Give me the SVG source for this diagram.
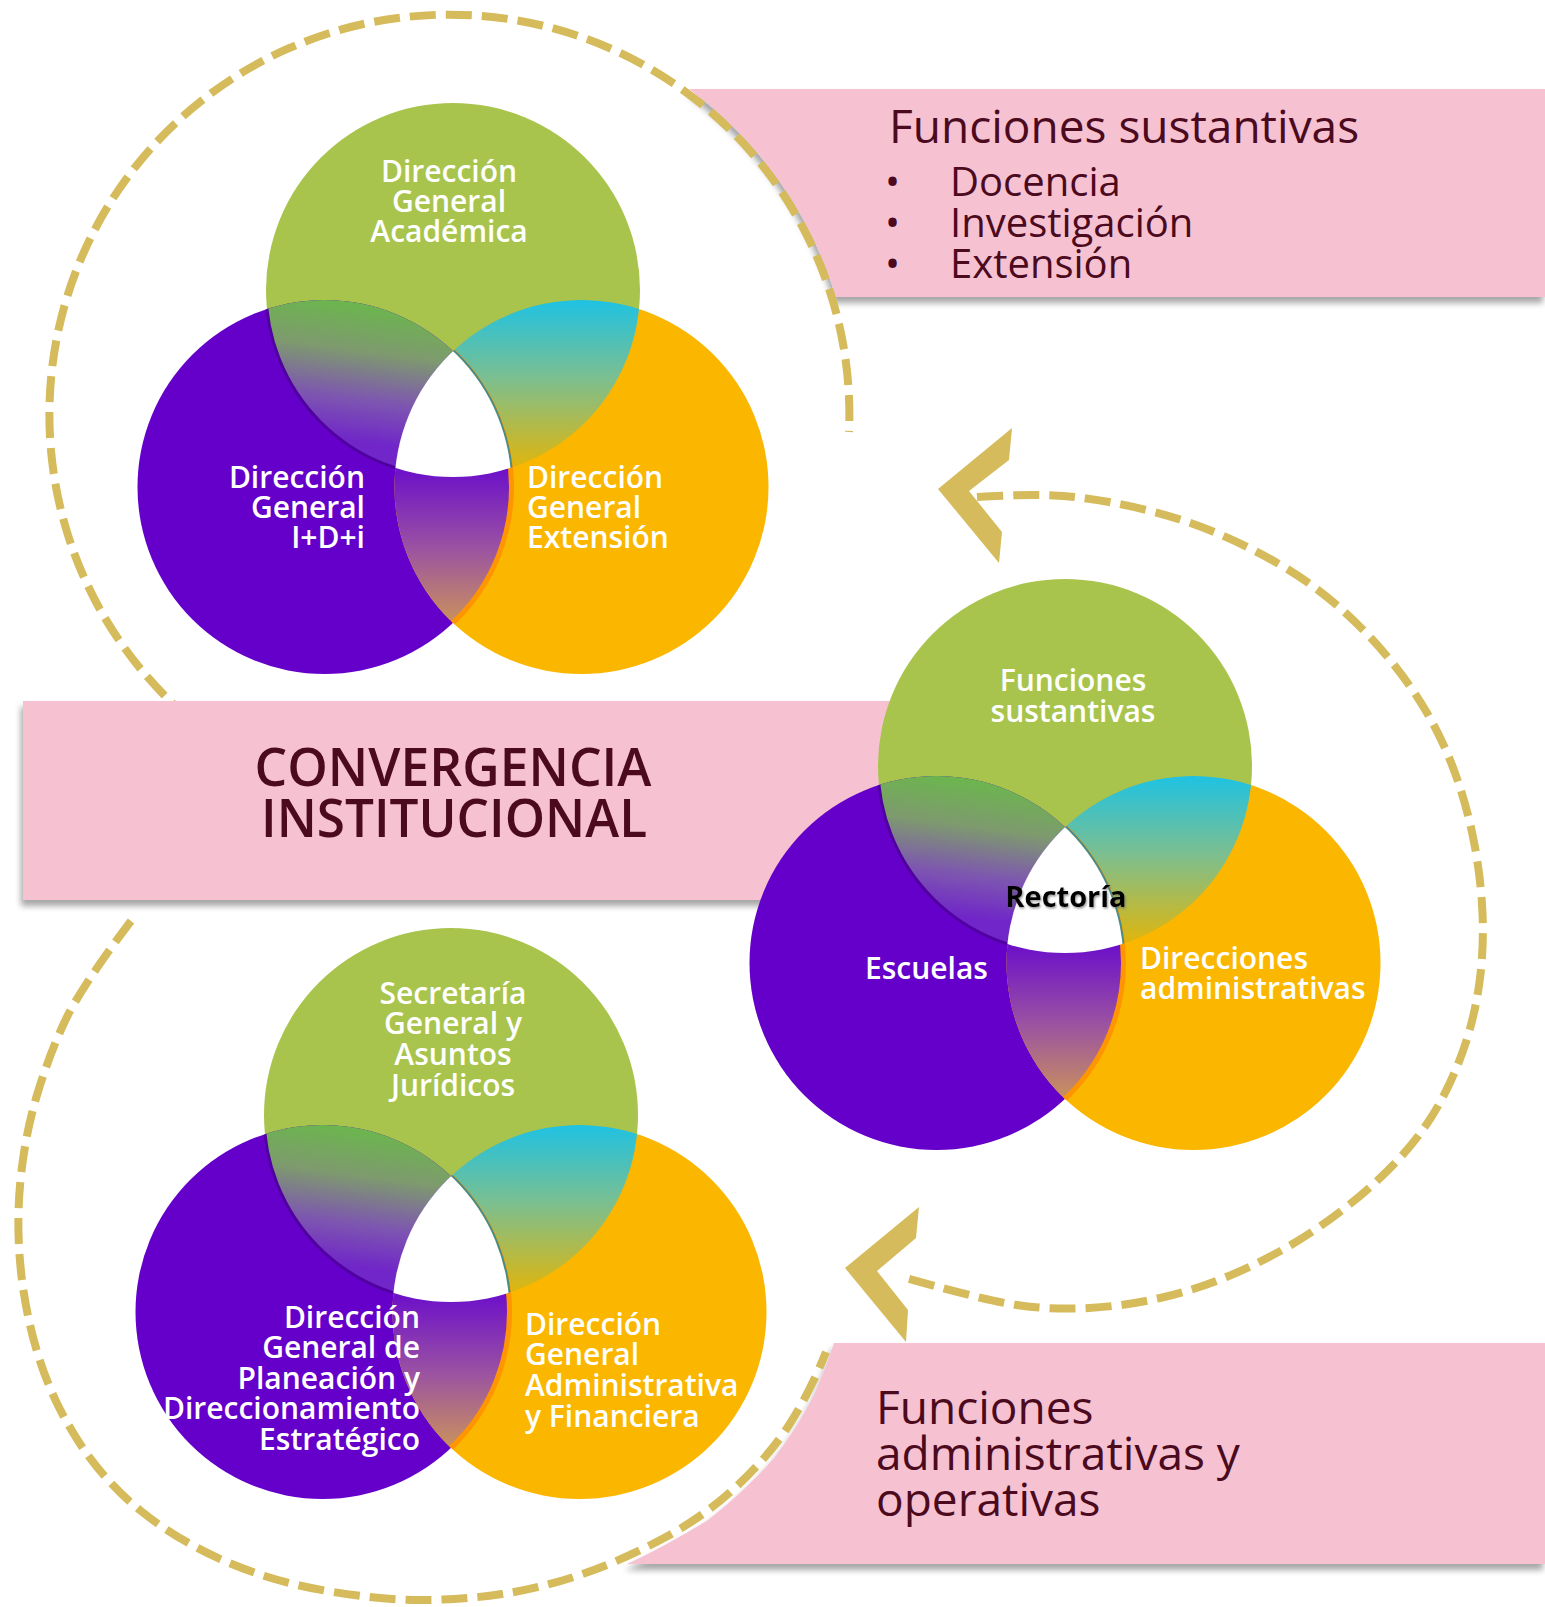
<svg xmlns="http://www.w3.org/2000/svg" width="1545" height="1607" viewBox="0 0 1545 1607">
<defs>
<style>
.lbl{font-family:"Open Sans","Noto Sans","DejaVu Sans",sans-serif;font-size:30px;font-weight:600;fill:#ffffff}
.c{text-anchor:middle}
.r{text-anchor:end}
.ban{font-family:"Open Sans","Noto Sans","DejaVu Sans",sans-serif;fill:#4C0A1E}
.dash{fill:none;stroke:#D5BB5B;stroke-width:8;stroke-dasharray:26 10}
.chev{fill:#D5BB5B}
.pink{fill:#F6C2D2}
</style>
<filter id="sh" x="-5%" y="-10%" width="110%" height="130%">
<feDropShadow dx="-2" dy="6" stdDeviation="3" flood-color="#000" flood-opacity="0.35"/>
</filter>
<filter id="tsh" x="-10%" y="-20%" width="120%" height="150%">
<feDropShadow dx="1" dy="1.5" stdDeviation="1.2" flood-color="#666" flood-opacity="0.7"/>
</filter>
<clipPath id="cpP"><circle cx="-128.5" cy="0" r="187"/></clipPath>
<clipPath id="cpO"><circle cx="128.5" cy="0" r="187"/></clipPath>
<clipPath id="cpG"><circle cx="0" cy="-197" r="187"/></clipPath>
<mask id="mPO" maskUnits="userSpaceOnUse" x="-400" y="-450" width="800" height="700">
<circle cx="-128.5" cy="0" r="187" fill="#fff"/>
<circle cx="128.5" cy="0" r="187" fill="#000"/>
</mask>
<linearGradient id="gGP" gradientUnits="userSpaceOnUse" x1="0" y1="-185" x2="-20" y2="-35">
<stop offset="0" stop-color="#66BE44"/>
<stop offset="0.4" stop-color="#7E9A6E"/>
<stop offset="0.72" stop-color="#7D56B0"/>
<stop offset="1" stop-color="#7026C8"/>
</linearGradient>
<linearGradient id="gGO" gradientUnits="userSpaceOnUse" x1="0" y1="-190" x2="0" y2="-25">
<stop offset="0" stop-color="#1BC2E6"/>
<stop offset="0.5" stop-color="#7DBF8E"/>
<stop offset="1" stop-color="#DAB614"/>
</linearGradient>
<linearGradient id="gPO" gradientUnits="userSpaceOnUse" x1="0" y1="-15" x2="0" y2="136">
<stop offset="0" stop-color="#6E12C8"/>
<stop offset="0.5" stop-color="#9A52A2"/>
<stop offset="1" stop-color="#CA925C"/>
</linearGradient>
<g id="vennShape">
<circle cx="0" cy="-197" r="187" fill="#A9C44C"/>
<circle cx="-128.5" cy="0" r="187" fill="#6500CA"/>
<circle cx="128.5" cy="0" r="187" fill="#FBB600"/>
<g clip-path="url(#cpP)"><circle cx="0" cy="-197" r="187" fill="url(#gGP)"/></g>
<g clip-path="url(#cpO)"><circle cx="0" cy="-197" r="187" fill="url(#gGO)"/></g>
<g clip-path="url(#cpO)"><circle cx="-128.5" cy="0" r="187" fill="url(#gPO)"/></g>
<g clip-path="url(#cpO)"><circle cx="-128.5" cy="0" r="187" fill="none" stroke="#FF9500" stroke-width="5"/></g>
<g clip-path="url(#cpO)"><g clip-path="url(#cpG)"><circle cx="-128.5" cy="0" r="187" fill="none" stroke="#4A8C84" stroke-width="4"/></g></g>
<circle cx="0" cy="-197" r="187" fill="none" stroke="#5000A0" stroke-width="3" mask="url(#mPO)"/>
<g clip-path="url(#cpO)"><g clip-path="url(#cpG)"><circle cx="-128.5" cy="0" r="187" fill="#ffffff"/></g></g>
</g>
</defs>

<rect x="0" y="0" width="1545" height="1607" fill="#ffffff"/>

<g id="banner-sustantivas">
<path class="pink" filter="url(#sh)" d="M689 89 L1545 89 L1545 297 L836 297 A404 404 0 0 0 689 89 Z"/>
<text class="ban" x="889" y="143" font-size="46">Funciones sustantivas</text>
<text class="ban" font-size="40"><tspan x="885" y="196">•</tspan><tspan x="885" y="237">•</tspan><tspan x="885" y="278">•</tspan></text>
<text class="ban" font-size="40"><tspan x="950" y="196">Docencia</tspan><tspan x="950" y="237">Investigación</tspan><tspan x="950" y="278">Extensión</tspan></text>
</g>

<g id="banner-administrativas">
<path class="pink" filter="url(#sh)" d="M834 1343 L1545 1343 L1545 1564 L627 1564 Q664 1547 708 1520 Q744 1492 774 1458 Q797 1428 814 1395 Q825 1370 834 1343 Z"/>
<text class="ban" font-size="46"><tspan x="876" y="1424">Funciones</tspan><tspan x="876" y="1470">administrativas y</tspan><tspan x="876" y="1516">operativas</tspan></text>
</g>

<g id="connectors">
<path class="dash" d="M191 720 A400 400 0 1 1 849 432"/>
<path class="dash" d="M131 921 Q81 987 65 1021 Q49 1055 37 1095 Q25 1135 20.5 1180 Q16 1225 21 1271.5 Q26 1318 40 1361 Q54 1404 79.5 1443 Q105 1482 141 1511 Q177 1540 223.5 1560.5 Q270 1581 324.5 1590.5 Q379 1600 420.5 1600 Q462 1600 502 1594 Q542 1588 582.5 1574 Q623 1560 664 1538 Q705 1516 737.5 1485.5 Q770 1455 790 1423.5 Q810 1392 826 1352"/>
<path class="dash" d="M977 497 Q1040 493 1075 497 Q1110 501 1146.5 510 Q1183 519 1216.5 533 Q1250 547 1281.5 565.5 Q1313 584 1340 608 Q1367 632 1388.5 658 Q1410 684 1426.5 712 Q1443 740 1455 773 Q1467 806 1474 842 Q1481 878 1482.5 913.5 Q1484 949 1479.5 982 Q1475 1015 1465 1045 Q1455 1075 1440 1102.5 Q1425 1130 1402.5 1155 Q1380 1180 1350 1204 Q1320 1228 1290 1245.5 Q1260 1263 1227.5 1276.5 Q1195 1290 1160 1298 Q1125 1306 1089 1308 Q1053 1310 1020 1305.5 Q987 1301 906 1278"/>
<polygon class="chev" points="1012,428 938,489 999,563 1002,532 969,491 1009,460"/>
<polygon class="chev" points="919,1207 845,1268 906,1342 908,1310 877,1271 916,1238"/>
</g>

<g id="banner-convergencia">
<rect class="pink" filter="url(#sh)" x="23" y="701" width="870" height="199"/>
<text class="ban" font-size="52" font-weight="600" text-anchor="middle"><tspan x="453" y="786" textLength="397" lengthAdjust="spacingAndGlyphs">CONVERGENCIA</tspan><tspan x="454" y="837" textLength="386" lengthAdjust="spacingAndGlyphs">INSTITUCIONAL</tspan></text>
</g>

<g id="venn-sustantivas">
<use href="#vennShape" transform="translate(453,487)"/>
<text class="lbl c"><tspan x="449" y="182">Dirección</tspan><tspan x="449" y="212">General</tspan><tspan x="449" y="242">Académica</tspan></text>
<text class="lbl r"><tspan x="365" y="488">Dirección</tspan><tspan x="365" y="518">General</tspan><tspan x="365" y="548">I+D+i</tspan></text>
<text class="lbl"><tspan x="527" y="488">Dirección</tspan><tspan x="527" y="518">General</tspan><tspan x="527" y="548">Extensión</tspan></text>
</g>

<g id="venn-rectoria">
<use href="#vennShape" transform="translate(1065,963)"/>
<text class="lbl c"><tspan x="1073" y="691">Funciones</tspan><tspan x="1073" y="722">sustantivas</tspan></text>
<text class="lbl" x="865" y="979">Escuelas</text>
<text class="lbl"><tspan x="1140" y="969">Direcciones</tspan><tspan x="1140" y="999">administrativas</tspan></text>
<text x="1066" y="907" font-family="'Open Sans','Noto Sans',sans-serif" font-size="29" font-weight="700" fill="#000" text-anchor="middle" filter="url(#tsh)">Rectoría</text>
</g>

<g id="venn-administrativas">
<use href="#vennShape" transform="translate(451,1312)"/>
<text class="lbl c"><tspan x="453" y="1004">Secretaría</tspan><tspan x="453" y="1034">General y</tspan><tspan x="453" y="1065">Asuntos</tspan><tspan x="453" y="1096">Jurídicos</tspan></text>
<text class="lbl r"><tspan x="420" y="1328">Dirección</tspan><tspan x="420" y="1358">General de</tspan><tspan x="420" y="1389">Planeación y</tspan><tspan x="420" y="1419">Direccionamiento</tspan><tspan x="420" y="1450">Estratégico</tspan></text>
<text class="lbl"><tspan x="525" y="1335">Dirección</tspan><tspan x="525" y="1365">General</tspan><tspan x="525" y="1396">Administrativa</tspan><tspan x="525" y="1427">y Financiera</tspan></text>
</g>
</svg>
